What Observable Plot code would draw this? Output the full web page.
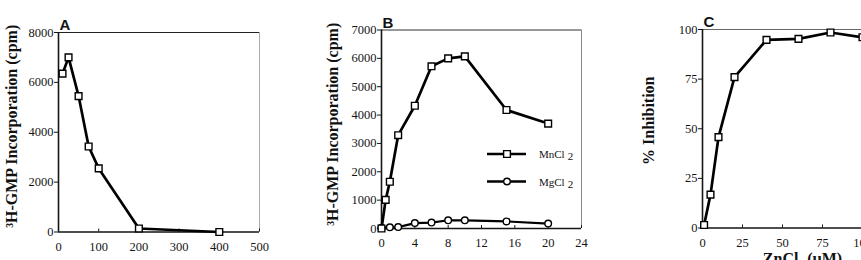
<!DOCTYPE html>
<html><head><meta charset="utf-8">
<script src="https://cdn.jsdelivr.net/npm/d3@7"></script>
<script src="https://cdn.jsdelivr.net/npm/@observablehq/plot@0.6"></script>
<style>
body{margin:0;background:#fff;}
#wrap{position:relative;width:861px;height:260px;overflow:hidden;background:#fff;}
.p{position:absolute;top:0;}
.p svg{overflow:visible;max-width:none !important;}
.p svg g[aria-label$="tick label"]{font-family:"Liberation Serif",serif !important;}
</style></head><body><div id="wrap"></div>
<script>
// ---- Panel A ----
const aDose = [10, 25, 50, 75, 100, 200, 400];
const aCpm = [6350, 7000, 5450, 3430, 2550, 140, 0];
const aXTicks = [0, 100, 200, 300, 400, 500];
const aYTicks = [0, 2000, 4000, 6000, 8000];
// ---- Panel B ----
const bMnConc = [0, 0.5, 1, 2, 4, 6, 8, 10, 15, 20];
const bMn = [0, 1010, 1650, 3290, 4330, 5720, 6000, 6070, 4180, 3700];
const bMgConc = [0, 1, 2, 4, 6, 8, 10, 15, 20];
const bMg = [25, 40, 50, 190, 210, 290, 290, 250, 175];
const bXTicks = [0, 4, 8, 12, 16, 20, 24];
const bYTicks = [0, 1000, 2000, 3000, 4000, 5000, 6000, 7000];
const bSeries = ["MnCl", "MgCl"];
// ---- Panel C ----
const cZn = [1, 5, 10, 20, 40, 60, 80, 100];
const cInh = [1.5, 16.8, 45.8, 76, 94.8, 95.3, 98.5, 96.1];
const cXTicks = [0, 25, 50, 75, 100, 125];
const cYTicks = [0, 25, 50, 75, 100];

const yLabelAB = "\u00B3H-GMP Incorporation (cpm)";
const yLabelC = "% Inhibition";
const xLabelC = "ZnCl\u2082 (\u00B5M)";

const serif = "Liberation Serif";
const sans = "Liberation Sans";
const ink = "#151515";

const wrap = document.getElementById("wrap");
function place(node, left, width) {
  const d = document.createElement("div");
  d.className = "p"; d.style.left = left + "px"; d.style.width = width + "px";
  d.appendChild(node); wrap.appendChild(d);
}

function panel({width, height, ml, mr, mt, mb, xDomain, yDomain, xTicks, yTicks, letter, ylabel, ylabelDx, ylabelDy, extra, topColor, rightColor}) {
  return Plot.plot({
    width, height, marginLeft: ml, marginRight: mr, marginTop: mt, marginBottom: mb,
    x: {domain: xDomain}, y: {domain: yDomain},
    style: {fontFamily: serif, fontSize: "12.5px", color: ink, background: "transparent", overflow: "visible", maxWidth: "none"},
    marks: [
      Plot.ruleY([yDomain[1]], {stroke: topColor, strokeWidth: 1.2}),
      rightColor ? Plot.ruleX([xDomain[1]], {stroke: rightColor, strokeWidth: 1}) : null,
      Plot.axisY({ticks: yTicks, tickFormat: "d", tickSize: 4, tickPadding: 1, label: null, fontSize: 12.5, fontFamily: serif, stroke: ink, fill: ink}),
      Plot.axisX({ticks: xTicks, tickFormat: "d", tickSize: -3, tickPadding: 13, label: null, fontSize: 12.5, fontFamily: serif, stroke: ink, fill: ink}),
      Plot.ruleX([xDomain[0]], {stroke: ink, strokeWidth: 1.6}),
      Plot.ruleY([yDomain[0]], {stroke: ink, strokeWidth: 1.6}),
      ...extra,
      Plot.text([letter], {frameAnchor: "top-left", dy: -13, dx: 1, fontFamily: sans, fontWeight: "bold", fontSize: 15, fill: "#111", textAnchor: "start"}),
      Plot.text([ylabel], {frameAnchor: "left", textAnchor: "middle", rotate: -90, dx: ylabelDx, dy: ylabelDy, fontFamily: serif, fontWeight: "bold", fontSize: 16, fill: "#111"})
    ]
  });
}

function pts(xs, ys) { return xs.map((x, i) => ({x, y: ys[i]})); }

// Panel A
const aData = pts(aDose, aCpm);
place(panel({
  width: 290, height: 280, ml: 58, mr: 31, mt: 32, mb: 48.5,
  xDomain: [0, 500], yDomain: [0, 8000], xTicks: aXTicks, yTicks: aYTicks,
  letter: "A", ylabel: yLabelAB, ylabelDx: -47, ylabelDy: -6,
  topColor: "#222", rightColor: "#aaa",
  extra: [
    Plot.line(aData, {x: "x", y: "y", stroke: "#000", strokeWidth: 2.7}),
    Plot.dot(aData, {x: "x", y: "y", symbol: "square", r: 3.8, fill: "white", stroke: "#000", strokeWidth: 1.4})
  ]
}), 0, 290);

// Panel B
const mnData = pts(bMnConc, bMn);
const mgData = pts(bMgConc, bMg);
place(panel({
  width: 295, height: 280, ml: 91, mr: 4, mt: 29.5, mb: 52,
  xDomain: [0, 24], yDomain: [0, 7000], xTicks: bXTicks, yTicks: bYTicks,
  letter: "B", ylabel: yLabelAB, ylabelDx: -49, ylabelDy: -5,
  topColor: "#333", rightColor: "#888",
  extra: [
    Plot.line(mgData, {x: "x", y: "y", stroke: "#000", strokeWidth: 2.2}),
    Plot.line(mnData, {x: "x", y: "y", stroke: "#000", strokeWidth: 2.7}),
    Plot.dot(mgData, {x: "x", y: "y", symbol: "circle", r: 3.3, fill: "white", stroke: "#000", strokeWidth: 1.4}),
    Plot.dot(mnData, {x: "x", y: "y", symbol: "square", r: 3.8, fill: "white", stroke: "#000", strokeWidth: 1.4})
  ]
}), 290, 295);

// Panel C
const cData = pts(cZn, cInh);
place(panel({
  width: 320, height: 280, ml: 112, mr: 8, mt: 29, mb: 52.5,
  xDomain: [0, 125], yDomain: [0, 100], xTicks: cXTicks, yTicks: cYTicks,
  letter: "C", ylabel: yLabelC, ylabelDx: -54, ylabelDy: -8,
  topColor: "#666", rightColor: null,
  extra: [
    Plot.line(cData, {x: "x", y: "y", stroke: "#000", strokeWidth: 2.7}),
    Plot.dot(cData, {x: "x", y: "y", symbol: "square", r: 3.8, fill: "white", stroke: "#000", strokeWidth: 1.4}),
    Plot.text([xLabelC], {frameAnchor: "bottom", dy: 36, fontFamily: serif, fontWeight: "bold", fontSize: 16, fill: "#111"})
  ]
}), 590, 320);

// Legend for panel B
const leg = d3.create("svg").attr("width", 100).attr("height", 50)
  .style("position", "absolute").style("left", "484px").style("top", "140px");
const symbols = [d3.symbolSquare, d3.symbolCircle];
bSeries.forEach((name, i) => {
  const g = leg.append("g").attr("transform", `translate(0,${14 + i * 27.5})`);
  g.append("line").attr("x1", 3).attr("x2", 42).attr("stroke", "#000").attr("stroke-width", 2.4);
  g.append("path").attr("transform", "translate(23,0)")
    .attr("d", d3.symbol(symbols[i], i === 0 ? Math.PI * 3.8 * 3.8 : Math.PI * 3.3 * 3.3)())
    .attr("fill", "white").attr("stroke", "#000").attr("stroke-width", 1.4);
  const t = g.append("text").attr("x", 55).attr("y", 4).attr("font-family", serif).attr("font-size", 11).attr("fill", "#111");
  t.append("tspan").text(name);
  t.append("tspan").attr("dx", 3).attr("dy", 2).text("2");
});
wrap.appendChild(leg.node());
</script>
</body></html>
